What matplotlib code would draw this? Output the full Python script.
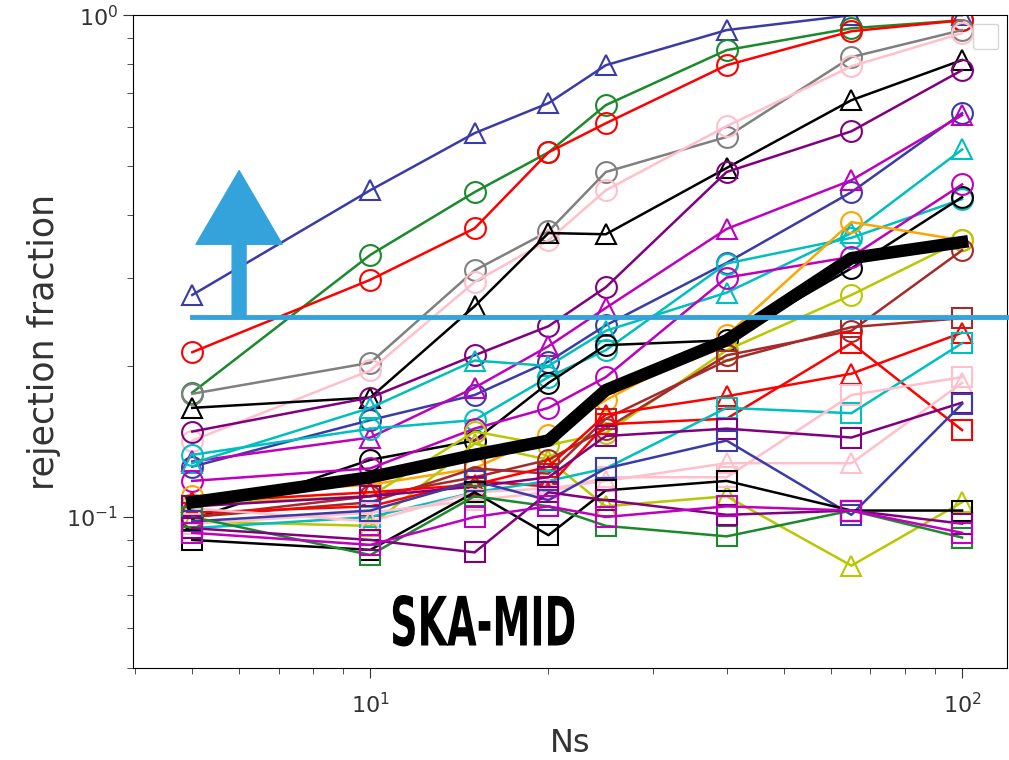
import numpy as np
import matplotlib.pyplot as plt
from matplotlib.patheffects import AbstractPathEffect
from matplotlib.transforms import Affine2D

# number of stations per calibration solution
ns = [5, 10, 15, 20, 25, 40, 65, 100]

# rejection fraction for each run (colour / marker per run)
blue_tri = [0.277, 0.448, 0.582, 0.668, 0.795, 0.934, 1.0, 1.0]
green_circ = [0.177, 0.333, 0.444, 0.533, 0.662, 0.852, 0.942, 0.977]
red_circ = [0.213, 0.297, 0.376, 0.533, 0.609, 0.795, 0.929, 0.977]
gray_circ = [0.176, 0.203, 0.310, 0.371, 0.487, 0.572, 0.825, 0.934]
pink_circ = [0.142, 0.196, 0.294, 0.356, 0.448, 0.601, 0.791, 0.921]
black_tri = [0.165, 0.173, 0.263, 0.368, 0.366, 0.496, 0.677, 0.814]
purple_circ = [0.148, 0.173, 0.210, 0.240, 0.287, 0.487, 0.587, 0.777]
blue_circ = [0.126, 0.156, 0.175, 0.204, 0.241, 0.321, 0.444, 0.638]
magenta_tri = [0.129, 0.144, 0.181, 0.219, 0.261, 0.375, 0.469, 0.632]
cyan_tri = [0.128, 0.165, 0.205, 0.200, 0.235, 0.280, 0.368, 0.540]
cyan_circ = [0.133, 0.150, 0.156, 0.190, 0.215, 0.320, 0.360, 0.430]
black_circ = [0.099, 0.130, 0.142, 0.185, 0.220, 0.225, 0.313, 0.434]
magenta_circ = [0.118, 0.125, 0.150, 0.165, 0.190, 0.300, 0.330, 0.460]
orange_circ = [0.110, 0.116, 0.125, 0.146, 0.171, 0.230, 0.387, 0.356]
olive_circ = [0.106, 0.110, 0.148, 0.139, 0.147, 0.215, 0.277, 0.356]
olive_tri = [0.098, 0.096, 0.140, 0.130, 0.105, 0.110, 0.080, 0.107]
brown_circ = [0.100, 0.110, 0.120, 0.130, 0.150, 0.210, 0.235, 0.340]
brown_sq = [0.100, 0.107, 0.125, 0.122, 0.157, 0.205, 0.239, 0.249]
red_sq = [0.102, 0.105, 0.118, 0.115, 0.153, 0.157, 0.222, 0.149]
red_tri = [0.107, 0.112, 0.116, 0.126, 0.160, 0.174, 0.193, 0.233]
cyan_sq = [0.095, 0.100, 0.112, 0.118, 0.125, 0.165, 0.161, 0.222]
pink_sq = [0.097, 0.102, 0.108, 0.112, 0.120, 0.120, 0.175, 0.190]
pink_tri = [0.104, 0.098, 0.112, 0.114, 0.118, 0.128, 0.128, 0.185]
purple_sq = [0.105, 0.110, 0.115, 0.120, 0.145, 0.150, 0.144, 0.169]
blue_sq = [0.098, 0.103, 0.118, 0.108, 0.125, 0.142, 0.101, 0.168]
black_sq = [0.090, 0.086, 0.112, 0.092, 0.113, 0.118, 0.103, 0.103]
green_sq = [0.100, 0.084, 0.110, 0.105, 0.096, 0.0915, 0.103, 0.091]
purple_sq2 = [0.095, 0.090, 0.085, 0.112, 0.108, 0.101, 0.103, 0.097]
magenta_sq = [0.093, 0.088, 0.100, 0.105, 0.100, 0.105, 0.103, 0.093]

# mean over all runs
mean_frac = [0.107, 0.120, 0.133, 0.142, 0.179, 0.225, 0.328, 0.353]

threshold = 0.25

runs = [
    (blue_tri, '#3b3ba8', '^'), (green_circ, '#1a8a2a', 'o'),
    (red_circ, 'red', 'o'), (gray_circ, 'gray', 'o'),
    (pink_circ, 'pink', 'o'), (black_tri, 'k', '^'),
    (purple_circ, 'purple', 'o'), (blue_circ, '#3b3ba8', 'o'),
    (magenta_tri, 'm', '^'), (cyan_tri, 'c', '^'),
    (cyan_circ, 'c', 'o'), (black_circ, 'k', 'o'),
    (magenta_circ, 'm', 'o'), (orange_circ, 'orange', 'o'),
    (olive_circ, '#b8c800', 'o'), (olive_tri, '#b8c800', '^'),
    (brown_circ, 'brown', 'o'), (brown_sq, 'brown', 's'),
    (red_sq, 'red', 's'), (red_tri, 'red', '^'),
    (cyan_sq, 'c', 's'), (pink_sq, 'pink', 's'),
    (pink_tri, 'pink', '^'), (purple_sq, 'purple', 's'),
    (blue_sq, '#3b3ba8', 's'), (black_sq, 'k', 's'),
    (green_sq, '#1a8a2a', 's'), (purple_sq2, 'purple', 's'),
    (magenta_sq, 'm', 's'),
]


class Squeeze(AbstractPathEffect):
    """Narrow the glyphs horizontally about a given display x."""

    def __init__(self, get_cx, sx):
        super().__init__()
        self.get_cx = get_cx
        self.sx = sx

    def draw_path(self, renderer, gc, tpath, affine, rgbFace=None):
        cx = self.get_cx()
        squeeze = Affine2D().translate(-cx, 0).scale(self.sx, 1).translate(cx, 0)
        renderer.draw_path(gc, tpath, affine + squeeze, rgbFace)


fig = plt.figure(figsize=(10.09, 7.6), dpi=100)
ax = fig.add_axes([0.1318, 0.121, 0.866, 0.859])

for vals, col, mk in runs:
    ax.plot(ns, vals, color=col, marker=mk, markersize=15, fillstyle='none',
            markeredgewidth=1.5, lw=1.8)

ax.plot(ns, mean_frac, color='k', lw=9, zorder=5)

ax.set_xscale('log')
ax.set_yscale('log')
ax.set_xlim(3.97, 119)
ax.set_ylim(0.05, 1.0)
ax.tick_params(which='major', length=7, labelsize=16, colors='#333333')
ax.tick_params(which='minor', length=4, colors='#333333')
ax.tick_params(axis='x', which='major', pad=10)
ax.set_xlabel('Ns', fontsize=23, color='#333333', labelpad=8)
ax.set_ylabel('rejection fraction', fontsize=25, color='#333333', labelpad=4)
ax.legend(handles=[], loc='upper right', borderpad=0.9, borderaxespad=0.6)

# acceptance threshold and arrow
blue = '#34a3dc'
ax.plot([5, 121], [threshold, threshold], color=blue, lw=3.5, clip_on=False, zorder=6)
ax.annotate('', xy=(6, 0.49), xytext=(6, threshold),
            arrowprops=dict(arrowstyle='simple,head_width=62,head_length=53,tail_width=10',
                            mutation_scale=1, color=blue, shrinkA=0, shrinkB=0),
            zorder=6)

lbl_pos = (15.5, 0.0605)
ax.text(*lbl_pos, 'SKA-MID', fontsize=49, fontweight='bold',
        ha='center', va='center', zorder=7,
        path_effects=[Squeeze(lambda: ax.transData.transform(lbl_pos)[0], 0.56)])

fig.savefig('out.png', dpi=100)
